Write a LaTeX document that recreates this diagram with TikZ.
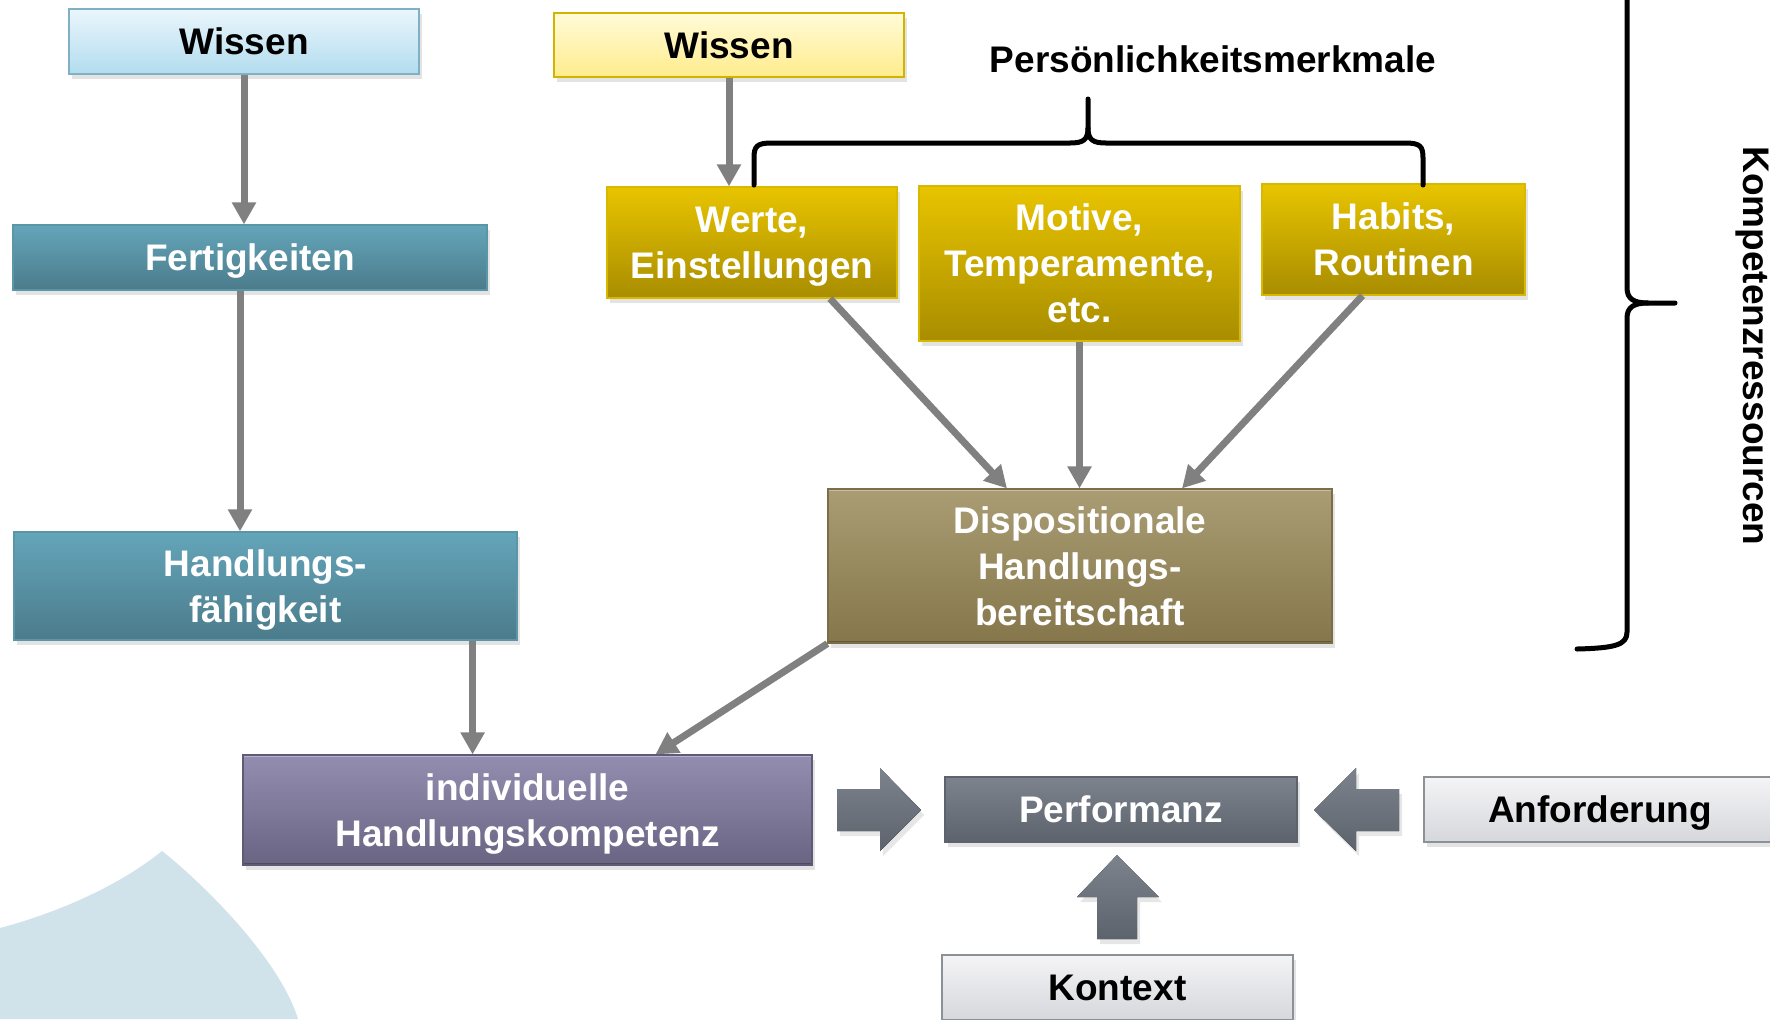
\documentclass[tikz,border=0pt]{standalone}
\usepackage{fontspec}
\setmainfont{Liberation Sans}
\usetikzlibrary{arrows.meta,shadows,calc}

\definecolor{bluetop}{HTML}{EAF6FC}
\definecolor{bluebot}{HTML}{B2DCEE}
\definecolor{blueedge}{HTML}{7FB0C4}
\definecolor{tealtop}{HTML}{64A5BA}
\definecolor{tealbot}{HTML}{4B7B8B}
\definecolor{tealedge}{HTML}{5B95A8}
\definecolor{creamtop}{HTML}{FFFBD8}
\definecolor{creambot}{HTML}{FFEC8C}
\definecolor{creamedge}{HTML}{D4B300}
\definecolor{goldtop}{HTML}{E8C400}
\definecolor{goldbot}{HTML}{A88D00}
\definecolor{goldedge}{HTML}{D9B800}
\definecolor{khakitop}{HTML}{AA9D73}
\definecolor{khakibot}{HTML}{85764B}
\definecolor{khakiedge}{HTML}{7A6D47}
\definecolor{lilatop}{HTML}{938DB0}
\definecolor{lilabot}{HTML}{6A6483}
\definecolor{lilaedge}{HTML}{5F5A78}
\definecolor{slatetop}{HTML}{7D838D}
\definecolor{slatebot}{HTML}{5D636D}
\definecolor{paletop}{HTML}{F4F4F6}
\definecolor{palebot}{HTML}{D6D7DC}
\definecolor{paleedge}{HTML}{8C9097}
\definecolor{arrowgray}{HTML}{808080}
\definecolor{blob}{HTML}{D0E2EA}

\tikzset{
  box/.style={draw, line width=0.6pt, inner sep=0pt, align=center, text=white,
    text depth=0pt, font=\bfseries\fontsize{18.5}{23}\selectfont,
    drop shadow={shadow xshift=1.5pt,shadow yshift=-2.5pt,opacity=0.22}},
  bevel/.style={path picture={
    \draw[white, opacity=0.35, line width=2pt]
      (path picture bounding box.north west) -- (path picture bounding box.north east);
    \draw[black, opacity=0.25, line width=2pt]
      (path picture bounding box.south west) -- (path picture bounding box.south east);}},
  bluebox/.style={box, draw=blueedge, top color=bluetop, bottom color=bluebot, text=black},
  tealbox/.style={box, draw=tealedge, top color=tealtop, bottom color=tealbot},
  creambox/.style={box, draw=creamedge, top color=creamtop, bottom color=creambot, text=black},
  goldbox/.style={box, draw=goldedge, top color=goldtop, bottom color=goldbot},
  khakibox/.style={box, bevel, draw=khakiedge, top color=khakitop, bottom color=khakibot},
  lilabox/.style={box, bevel, draw=lilaedge, top color=lilatop, bottom color=lilabot},
  slatebox/.style={box, draw=slatebot, top color=slatetop, bottom color=slatebot},
  palebox/.style={box, draw=paleedge, top color=paletop, bottom color=palebot, text=black},
  conn/.style={draw=arrowgray, line width=3.5pt, -{Triangle[width=11.5pt,length=11pt]}},
  brace/.style={draw=black, line width=2.5pt, line cap=round, line join=round},
  blockarrow/.style={top color=slatetop, bottom color=slatebot,
    drop shadow={shadow xshift=1.5pt,shadow yshift=-2.5pt,opacity=0.2}},
  label/.style={inner sep=0pt, font=\bfseries\fontsize{18.5}{23}\selectfont}
}

\begin{document}
\begin{tikzpicture}[x=0.5pt,y=-0.5pt]
\useasboundingbox (0,0) rectangle (1770,1019);
\clip (0,0) rectangle (1770,1019);
% background shape
\fill[blob] (0,928) .. controls (60,912) and (120,885) .. (162,851)
  .. controls (205,885) and (280,960) .. (298,1019) -- (0,1019) -- cycle;

% left column
\node[bluebox, minimum width=175pt, minimum height=32.5pt] (wissenA) at (244,41.5) {Wissen};
\node[tealbox, minimum width=237pt, minimum height=32.5pt] (fert) at (250,257.5) {Fertigkeiten};
\node[tealbox, minimum width=251.5pt, minimum height=54pt] (hand) at (265.5,586) {Handlungs-\\f\"ahigkeit};

% right column
\node[creambox, minimum width=175pt, minimum height=32pt] (wissenB) at (729,45) {Wissen};
\node[goldbox, minimum width=145pt, minimum height=55.5pt] (werte) at (752,242.5) {Werte,\\Einstellungen};
\node[goldbox, minimum width=160.5pt, minimum height=77.5pt] (motive) at (1079.5,263.5) {Motive,\\Temperamente,\\etc.};
\node[goldbox, minimum width=131.5pt, minimum height=55.5pt] (habits) at (1393.5,239.5) {Habits,\\Routinen};
\node[khakibox, minimum width=252pt, minimum height=77pt] (disp) at (1080,566) {Dispositionale\\Handlungs-\\bereitschaft};

% bottom row
\node[lilabox, minimum width=284.5pt, minimum height=55pt] (indiv) at (527.5,810) {individuelle\\Handlungskompetenz};
\node[slatebox, minimum width=176pt, minimum height=32.5pt] (perf) at (1121,809.5) {Performanz};
\node[palebox, minimum width=176pt, minimum height=32.5pt] (anf) at (1600,809.5) {Anforderung};
\node[palebox, minimum width=175.5pt, minimum height=32.5pt] (kontext) at (1117.5,987.5) {Kontext};

% labels
\node[label] (persoen) at (1213,59) {Pers\"onlichkeitsmerkmale};
\node[label, rotate=-90] (ressourcen) at (1752,346) {Kompetenzressourcen};

% connectors
\draw[conn] (wissenA.south) -- (wissenA.south |- fert.north);
\coordinate (f1) at ($(fert.south)+(-10,0)$);
\draw[conn] (f1) -- (f1 |- hand.north);
\coordinate (h1) at ($(hand.south east)+(-45,0)$);
\draw[conn] (h1) -- (h1 |- indiv.north);
\draw[conn] (wissenB.south) -- (wissenB.south |- werte.north);
\draw[conn] ($(werte.south)+(78,0)$) -- ($(disp.north)+(-73,0)$);
\draw[conn] (motive.south) -- (motive.south |- disp.north);
\draw[conn] ($(habits.south)+(-31,0)$) -- ($(disp.north)+(102,0)$);
\draw[conn] (disp.south west) -- ($(indiv.north)+(128,0)$);

% block arrows
\fill[blockarrow] (837,789) -- (880,789) -- (880,768) -- (921,810) -- (880,851) -- (880,831) -- (837,831) -- cycle;
\fill[blockarrow] (1399,789) -- (1356,789) -- (1356,768) -- (1314,810) -- (1356,851) -- (1356,831) -- (1399,831) -- cycle;
\fill[blockarrow] (1097,939) -- (1097,897) -- (1077,897) -- (1117,855) -- (1159,897) -- (1137,897) -- (1137,939) -- cycle;

% braces
\draw[brace] (754,185) -- (754,158) .. controls (754,146) and (757,143) .. (772,143) -- (1070,143)
  .. controls (1083,143) and (1088,140) .. (1088,128) -- (1088,99);
\draw[brace] (1088,128) .. controls (1088,140) and (1093,143) .. (1106,143) -- (1405,143)
  .. controls (1420,143) and (1423,146) .. (1423,158) -- (1423,185);
\draw[brace] (1627,-50) -- (1627,288) .. controls (1627,299) and (1634,303) .. (1648,303) -- (1675,303);
\draw[brace] (1648,303) .. controls (1634,303) and (1627,307) .. (1627,318) -- (1627,632)
  .. controls (1627,645) and (1615,648) .. (1577,649);
\end{tikzpicture}
\end{document}
